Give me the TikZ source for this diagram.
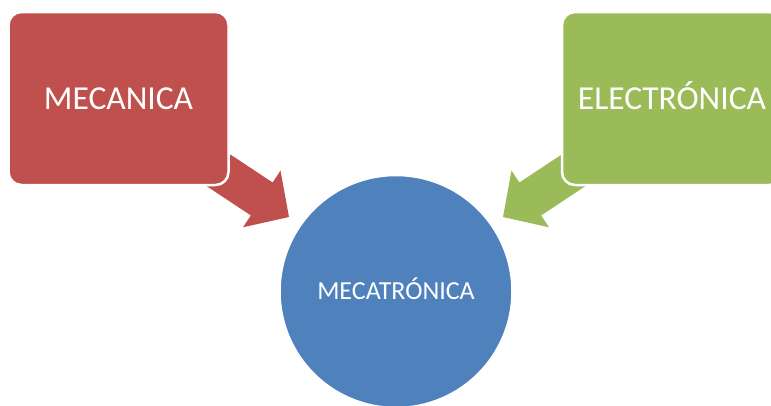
\documentclass[tikz,border=0pt]{standalone}
\usepackage{fontspec}
\setmainfont{Carlito}
\definecolor{redc}{HTML}{C0504D}
\definecolor{greenc}{HTML}{9BBB59}
\definecolor{bluec}{HTML}{4F81BD}
\tikzset{
  topicbox/.style={rounded corners=13pt, minimum width=220pt, minimum height=173pt,
    inner sep=0pt, draw=white, line width=2.5pt, text=white,
    font=\fontsize{33.5}{40}\selectfont, text height=21pt, text depth=0pt},
  hubcircle/.style={circle, minimum size=233pt, inner sep=0pt, draw=white,
    line width=2.5pt, fill=bluec, text=white,
    font=\fontsize{26}{31}\selectfont, text height=16.7pt, text depth=0pt},
  blockarrow/.pic={
    \fill[pic actions] (0,0) -- (-32.7,34) -- (-32.7,19.75) -- (-105,19.75)
      -- (-105,-19.75) -- (-32.7,-19.75) -- (-32.7,-34) -- cycle;
  }
}
\begin{document}
\begin{tikzpicture}[x=1pt,y=-1pt]
  \useasboundingbox (0,0) rectangle (771,405);
  \clip (0,0) rectangle (771,405);

  % arrow tips pointing at the hub
  \coordinate (tipR) at (289,217);
  \coordinate (tipG) at (503,217);

  % block arrows, drawn first so the boxes cover their tails
  \pic[fill=redc, rotate=-33.5] at (tipR) {blockarrow};
  \pic[fill=greenc, rotate=213.5] at (tipG) {blockarrow};

  % the two source boxes
  \node[topicbox, fill=redc] (mec) at (118.5,98.5) {MECANICA};
  \node[topicbox, fill=greenc] (ele) at (672,98.5) {ELECTRÓNICA};

  % the hub
  \node[hubcircle] (hub) at (396,291.5) {MECATRÓNICA};
\end{tikzpicture}
\end{document}
